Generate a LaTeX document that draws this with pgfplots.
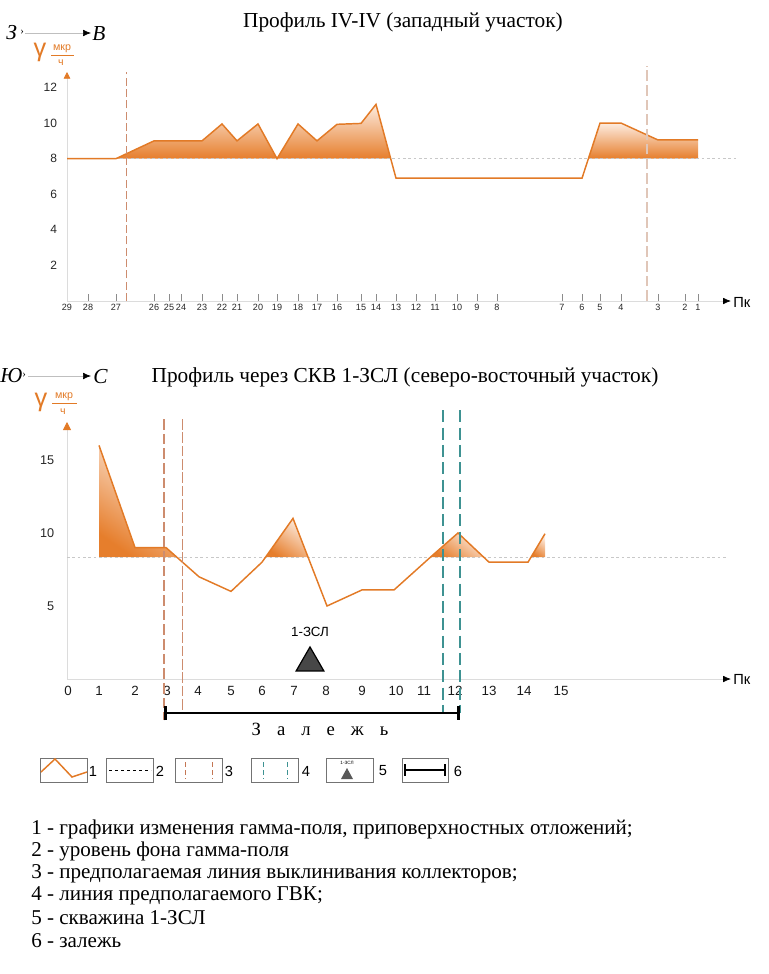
\documentclass[border=0pt]{standalone}
\usepackage{pgfplots}
\pgfplotsset{compat=1.18}
\usepackage{fontspec}
\setmainfont{Liberation Serif}
\setsansfont{Liberation Sans}
\usetikzlibrary{arrows.meta}
\definecolor{orln}{RGB}{226,122,38}
\definecolor{orfill}{RGB}{230,126,44}
\definecolor{orlight}{RGB}{253,236,224}
\definecolor{brownd}{RGB}{196,118,84}
\definecolor{brownm}{RGB}{205,140,110}
\definecolor{brownl}{RGB}{224,198,184}
\definecolor{teald}{RGB}{62,146,146}
\definecolor{axgray}{RGB}{220,220,220}
\definecolor{bggray}{RGB}{200,200,200}
\pgfplotsset{grad/.style={draw=none, top color=orlight, bottom color=orfill, shading angle=-35},
  gradv/.style={draw=none, top color=orlight, bottom color=orfill}}
\begin{document}
\begin{tikzpicture}
\begin{scope}[x=0.75pt,y=-0.75pt]
\path[use as bounding box] (0,0) rectangle (768,974);

% ---------- headers ----------
\node[font=\fontsize{16}{18}\selectfont] at (403,22) {Профиль IV-IV (западный участок)};
\node[font=\itshape\fontsize{16}{18}\selectfont, anchor=west, inner sep=0] at (6,33) {З};
\node[font=\fontsize{8}{9}\selectfont, anchor=west, inner sep=0] at (20,32) {›};
\draw[black!25, line width=0.5pt, -{Latex[black,length=6pt,width=5pt]}] (25,33) -- (91,33);
\node[font=\itshape\fontsize{16}{18}\selectfont, anchor=west, inner sep=0] at (92,34) {В};

\node[font=\fontsize{16}{18}\selectfont] at (405,377) {Профиль через СКВ 1-ЗСЛ (северо-восточный участок)};
\node[font=\itshape\fontsize{16}{18}\selectfont, anchor=west, inner sep=0] at (0,376) {Ю};
\node[font=\fontsize{8}{9}\selectfont, anchor=west, inner sep=0] at (22,375) {›};
\draw[black!25, line width=0.5pt, -{Latex[black,length=6pt,width=5pt]}] (28,376) -- (91,376);
\node[font=\itshape\fontsize{16}{18}\selectfont, anchor=west, inner sep=0] at (93,377) {С};

% gamma labels
\node[text=orln, font=\sffamily\fontsize{19}{20}\selectfont, inner sep=0] at (40,52) {γ};
\node[text=orln, font=\sffamily\fontsize{8}{9}\selectfont, inner sep=0] at (62,49) {мкр};
\draw[orln, line width=0.6pt] (51,55) -- (74,55);
\node[text=orln, font=\sffamily\fontsize{8}{9}\selectfont, inner sep=0] at (61,63) {ч};

\node[text=orln, font=\sffamily\fontsize{19}{20}\selectfont, inner sep=0] at (41,402) {γ};
\node[text=orln, font=\sffamily\fontsize{8}{9}\selectfont, inner sep=0] at (64,397) {мкр};
\draw[orln, line width=0.6pt] (52,403) -- (77,403);
\node[text=orln, font=\sffamily\fontsize{8}{9}\selectfont, inner sep=0] at (63,412) {ч};

\node[font=\sffamily\fontsize{11}{12}\selectfont, anchor=west, inner sep=0] at (733,302) {Пк};
\node[font=\sffamily\fontsize{11}{12}\selectfont, anchor=west, inner sep=0] at (733,679) {Пк};
\node[font=\fontsize{14}{16}\selectfont] at (320,729) {З\hspace{12pt}а\hspace{12pt}л\hspace{12pt}е\hspace{12pt}ж\hspace{12pt}ь};

% ---------- legend symbols ----------
\begin{scope}[line width=0.5pt]
\draw[black!55] (40,758) rectangle (87,782);
\draw[orln, line width=1.1pt] (41,772) -- (55,759) -- (72,777) -- (87,772);
\node[font=\sffamily\fontsize{11}{12}\selectfont] at (93,771) {1};
\draw[black!55] (106,758) rectangle (153,782);
\draw[black, dash pattern=on 2pt off 2.5pt] (109,770) -- (151,770);
\node[font=\sffamily\fontsize{11}{12}\selectfont] at (160,771) {2};
\draw[black!55] (175,758) rectangle (222,782);
\draw[brownd, dash pattern=on 4pt off 2pt] (185,762) -- (185,779);
\draw[brownd, dash pattern=on 4pt off 2pt] (212,762) -- (212,779);
\node[font=\sffamily\fontsize{11}{12}\selectfont] at (229,771) {3};
\draw[black!55] (251,758) rectangle (298,782);
\draw[teald, dash pattern=on 4pt off 2pt] (263,762) -- (263,779);
\draw[teald, dash pattern=on 4pt off 2pt] (287,762) -- (287,779);
\node[font=\sffamily\fontsize{11}{12}\selectfont] at (306,771) {4};
\draw[black!55] (326,758) rectangle (373,782);
\node[font=\sffamily\fontsize{3.5}{4}\selectfont, inner sep=0] at (347,763) {1-ЗСЛ};
\fill[black!65] (341,779) -- (353,779) -- (347,768) -- cycle;
\node[font=\sffamily\fontsize{11}{12}\selectfont] at (383,771) {5};
\draw[black!55] (402,758) rectangle (448,782);
\draw[black, line width=1.4pt] (405,770) -- (445,770);
\draw[black, line width=1.6pt] (405,764) -- (405,776);
\draw[black, line width=1.6pt] (445,764) -- (445,776);
\node[font=\sffamily\fontsize{11}{12}\selectfont] at (458,771) {6};
\end{scope}

% ---------- legend text ----------
\begin{scope}[every node/.style={anchor=west, inner sep=0, font=\fontsize{15.8}{18}\selectfont}]
\node at (31,829) {1 - графики изменения гамма-поля, приповерхностных отложений;};
\node at (31,851) {2 - уровень фона гамма-поля};
\node at (31,874) {3 - предполагаемая линия выклинивания коллекторов;};
\node at (31,896) {4 - линия предполагаемого ГВК;};
\node at (31,918) {5 - скважина 1-ЗСЛ};
\node at (31,941) {6 - залежь};
\end{scope}
\end{scope}

% ---------- top chart ----------
\begin{axis}[
  at={(50.25pt,-225.75pt)}, anchor=south west,
  scale only axis, width=498pt, height=171.75pt,
  xmin=67, xmax=731, ymin=0, ymax=12.87,
  axis lines=left, clip=false,
  x axis line style={draw=axgray, line width=0.6pt, -{Latex[black,length=6pt,width=5pt]}},
  y axis line style={draw=axgray, line width=0.6pt, -{Triangle[orln,length=5pt,width=5pt]}},
  ytick={2,4,6,8,10,12},
  ytick style={draw=none},
  y tick label style={font=\sffamily\fontsize{9}{10}\selectfont, text=black!85, xshift=-4pt},
  /pgf/number format/assume math mode=true,
  xtick={67,88,116,154,169,181,202,222,237,258,277,298,317,337,361,376,396,416,435,457,477,497,562,582,600,621,658,685,698},
  xticklabels={29,28,27,26,25,24,23,22,21,20,19,18,17,16,15,14,13,12,11,10,9,8,7,6,5,4,3,2,1},
  x tick label style={font=\sffamily\fontsize{6.8}{7}\selectfont, text=black!85, yshift=1pt},
  xtick style={draw=black!45, line width=0.4pt},
  tick align=inside, major tick length=5pt,
]
\addplot[gradv] coordinates {
 (116,8) (154,9) (169,9) (181,9) (202,9) (222,9.95) (237,9) (258,9.95) (277,8)
 (298,9.95) (317,9) (337,9.93) (361,9.98) (376,11.05) (390.7,8)} -- cycle;
\addplot[gradv] coordinates {
 (588.4,8) (600,10) (621,10) (658,9.05) (685,9.05) (698,9.05) (698,8)} -- cycle;
\addplot[bggray, line width=0.5pt, dash pattern=on 2pt off 2pt] coordinates {(67,8) (736,8)};
\addplot[orln, line width=1.1pt] coordinates {
 (67,8) (88,8) (116,8) (154,9) (169,9) (181,9) (202,9) (222,9.95) (237,9) (258,9.95)
 (277,8) (298,9.95) (317,9) (337,9.93) (361,9.98) (376,11.05) (396,6.9) (416,6.9)
 (435,6.9) (457,6.9) (477,6.9) (497,6.9) (562,6.9) (582,6.9) (600,10) (621,10)
 (658,9.05) (685,9.05) (698,9.05)};
\addplot[brownm, line width=0.7pt, dash pattern=on 6pt off 2.5pt] coordinates {(126,0) (126,12.87)};
\addplot[brownl, line width=1.2pt, dash pattern=on 8pt off 3pt] coordinates {(647,0) (647,13.2)};
\end{axis}

% ---------- bottom chart ----------
\begin{axis}[
  at={(50.25pt,-509.25pt)}, anchor=south west,
  scale only axis, width=498pt, height=192.75pt,
  xmin=67, xmax=731, ymin=0, ymax=17.6,
  axis lines=left, clip=false,
  x axis line style={draw=axgray, line width=0.6pt, -{Latex[black,length=6pt,width=5pt]}},
  y axis line style={draw=axgray, line width=0.6pt, -{Triangle[orln,length=6pt,width=6pt]}},
  ytick={5,10,15},
  ytick style={draw=none},
  y tick label style={font=\sffamily\fontsize{9.5}{10}\selectfont, text=black!85, xshift=-4pt},
  /pgf/number format/assume math mode=true,
  xtick={68,99,135,167,198,231,262,294,326,362,396,424,455,489,524,561},
  xticklabels={0,1,2,3,4,5,6,7,8,9,10,11,12,13,14,15},
  x tick label style={font=\sffamily\fontsize{10}{11}\selectfont, text=black!90},
  xtick style={draw=none},
]
\addplot[grad] coordinates {
 (99,8.35) (99,16) (135,9) (166,9) (176.7,8.35)} -- cycle;
\addplot[grad] coordinates {
 (265.6,8.35) (293,11) (308,8.35)} -- cycle;
\addplot[grad] coordinates {
 (430.6,8.35) (433,8.5) (458,10) (483.6,8.35)} -- cycle;
\addplot[grad] coordinates {
 (531,8.35) (545,9.95) (545,8.35)} -- cycle;
\addplot[bggray, line width=0.5pt, dash pattern=on 2pt off 2pt] coordinates {(67,8.35) (727,8.35)};
\addplot[orln, line width=1.1pt] coordinates {
 (99,16) (135,9) (166,9) (199,7) (231,6) (262,8) (293,11) (327,5) (362,6.1) (394,6.1)
 (433,8.5) (458,10) (489,8) (528,8) (545,9.95)};
\addplot[brownm, line width=0.9pt, dash pattern=on 8pt off 3pt] coordinates {(164,17.8) (164,-2.8)};
\addplot[brownm, line width=0.7pt, dash pattern=on 8pt off 2pt] coordinates {(182,17.8) (182,-2.3)};
\addplot[teald, line width=0.9pt, dash pattern=on 9pt off 4pt] coordinates {(443,18.4) (443,-2.3)};
\addplot[teald, line width=0.9pt, dash pattern=on 9pt off 4pt] coordinates {(460,18.4) (460,-2.3)};
\addplot[black, line width=1.8pt, {Bar[width=11pt,line width=2pt]}-{Bar[width=11pt,line width=2pt]}] coordinates {(164,-2.33) (460,-2.33)};
\addplot[only marks, mark=triangle*, mark size=12pt, mark options={fill=black!72, draw=black, line width=0.9pt}] coordinates {(310,1.1)};
\node[font=\sffamily\fontsize{10}{11}\selectfont] at (axis cs:310,3.2) {1-ЗСЛ};
\end{axis}
\end{tikzpicture}
\end{document}
